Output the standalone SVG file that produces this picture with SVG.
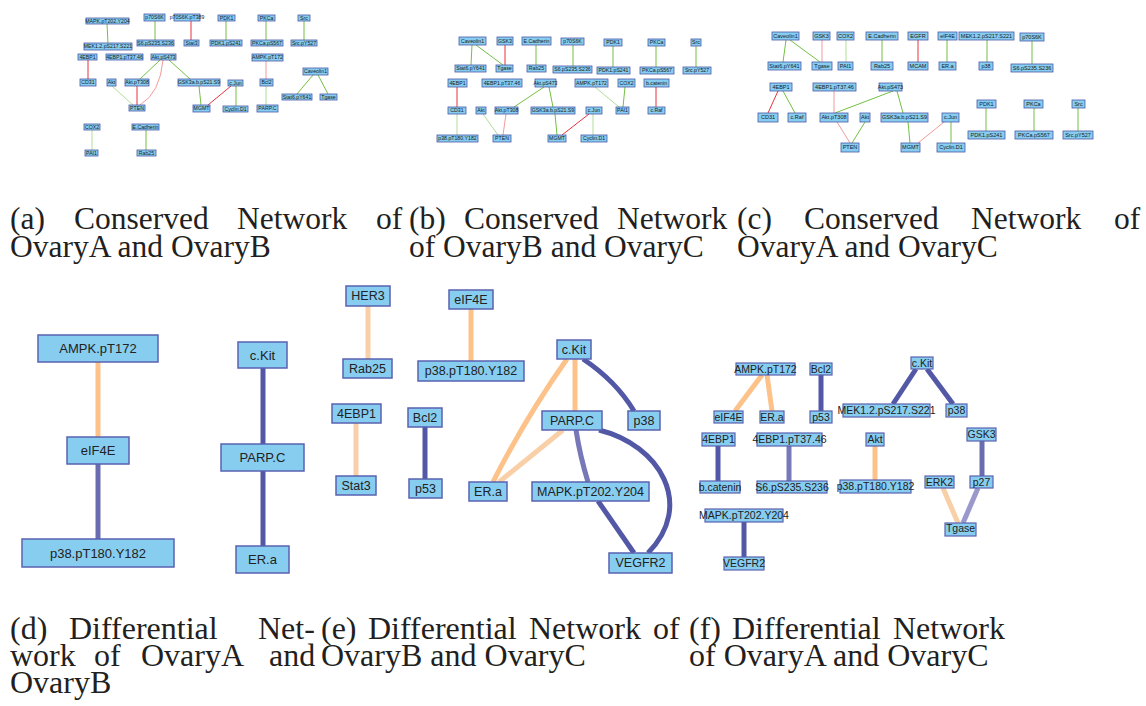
<svg xmlns="http://www.w3.org/2000/svg" width="1146" height="706" viewBox="0 0 1146 706">
<style>
  .bg { fill: #ffffff; }
  .s rect { fill: #87cdf0; stroke: #4c58a8; stroke-width: 0.8; }
  .s text { font-family: "Liberation Sans", Arial, sans-serif; font-size: 5.2px; fill: #1a1a1a; text-anchor: middle; }
  .c text { font-size: 5.5px; }
  .L rect { fill: #87cdf0; stroke: #5a62b0; stroke-width: 1.5; }
  .L text { font-family: "Liberation Sans", Arial, sans-serif; font-size: 12.5px; fill: #222222; text-anchor: middle; }
  .d text { font-size: 13px; }
  .M rect { fill: #87cdf0; stroke: #5a62b0; stroke-width: 1.2; }
  .M text { font-family: "Liberation Sans", Arial, sans-serif; font-size: 10.5px; fill: #222222; text-anchor: middle; }
  .e path, .e line { fill: none; }
  .g { stroke: #74c043; stroke-width: 1; }
  .lg { stroke: #b3dd98; stroke-width: 1; }
  .r { stroke: #e8353c; stroke-width: 1; }
  .lr { stroke: #f29b9b; stroke-width: 1; }
  .db { stroke: #5257a6; stroke-width: 5; }
  .mb { stroke: #6a6cb0; stroke-width: 5; }
  .pb { stroke: #7878b8; stroke-width: 5; }
  .vb { stroke: #9b98cc; stroke-width: 5; }
  .or { stroke: #fdc289; stroke-width: 5; }
  .pe { stroke: #f9cfa8; stroke-width: 5; }
  .cap { font-family: "Liberation Serif", "Times New Roman", serif; fill: #231f20; }
  .top { font-size: 31.5px; }
  .bot { font-size: 32px; }
</style>
<rect class="bg" x="0" y="0" width="1146" height="706"/>

<!-- edges of all six networks -->
<g id="connectors" class="e">
  <!-- (a) -->
  <line class="g" x1="107" y1="24" x2="108" y2="43"/>
  <line class="g" x1="155" y1="21" x2="155" y2="40"/>
  <line class="r" x1="191" y1="21" x2="191" y2="40"/>
  <line class="g" x1="226" y1="21" x2="226" y2="40"/>
  <line class="g" x1="266" y1="21" x2="266" y2="40"/>
  <line class="g" x1="304" y1="21" x2="304" y2="40"/>
  <line class="lr" x1="266" y1="61" x2="266" y2="79"/>
  <line class="lg" x1="266" y1="86" x2="266" y2="105"/>
  <line class="g" x1="313" y1="75" x2="297" y2="94"/>
  <line class="g" x1="318" y1="75" x2="328" y2="94"/>
  <line class="g" x1="236" y1="86" x2="236" y2="106"/>
  <line class="r" x1="231" y1="86" x2="208" y2="105"/>
  <line class="r" x1="88" y1="60" x2="88" y2="79"/>
  <line class="g" x1="160" y1="60" x2="140" y2="79"/>
  <line class="g" x1="169" y1="60" x2="190" y2="79"/>
  <path class="lr" d="M163 60 Q160 93 140 105"/>
  <line class="lg" x1="112" y1="86" x2="133" y2="105"/>
  <line class="r" x1="137" y1="86" x2="137" y2="105"/>
  <line class="g" x1="199" y1="86" x2="201" y2="105"/>
  <line class="lg" x1="92" y1="130" x2="92" y2="150"/>
  <line class="g" x1="146" y1="130" x2="146" y2="150"/>
  <!-- (b) -->
  <line class="g" x1="472" y1="45" x2="471" y2="65"/>
  <line class="g" x1="476" y1="45" x2="503" y2="65"/>
  <line class="r" x1="505" y1="45" x2="505" y2="65"/>
  <line class="g" x1="536" y1="45" x2="536" y2="65"/>
  <line class="g" x1="573" y1="45" x2="573" y2="66"/>
  <line class="g" x1="613" y1="46" x2="613" y2="67"/>
  <line class="g" x1="656" y1="46" x2="656" y2="67"/>
  <line class="g" x1="696" y1="46" x2="696" y2="67"/>
  <line class="lg" x1="595" y1="87" x2="619" y2="107"/>
  <line class="g" x1="625" y1="87" x2="623" y2="107"/>
  <line class="r" x1="656" y1="87" x2="656" y2="107"/>
  <line class="lg" x1="593" y1="114" x2="593" y2="135"/>
  <line class="r" x1="589" y1="114" x2="562" y2="135"/>
  <line class="r" x1="457" y1="87" x2="457" y2="107"/>
  <line class="lg" x1="457" y1="114" x2="457" y2="135"/>
  <line class="g" x1="544" y1="87" x2="514" y2="107"/>
  <line class="g" x1="549" y1="87" x2="553" y2="107"/>
  <line class="g" x1="555" y1="114" x2="557" y2="135"/>
  <line class="lg" x1="483" y1="114" x2="498" y2="135"/>
  <line class="lr" x1="506" y1="114" x2="503" y2="135"/>
  <!-- (c) -->
  <line class="g" x1="786" y1="40" x2="783" y2="62"/>
  <line class="g" x1="790" y1="40" x2="820" y2="62"/>
  <line class="lr" x1="822" y1="40" x2="822" y2="62"/>
  <line class="lg" x1="846" y1="40" x2="846" y2="62"/>
  <line class="g" x1="882" y1="40" x2="882" y2="62"/>
  <line class="r" x1="918" y1="40" x2="918" y2="62"/>
  <line class="g" x1="947" y1="40" x2="947" y2="62"/>
  <line class="g" x1="987" y1="40" x2="987" y2="62"/>
  <line class="g" x1="1032" y1="41" x2="1032" y2="64"/>
  <line class="r" x1="778" y1="91" x2="768" y2="113"/>
  <line class="g" x1="783" y1="91" x2="795" y2="113"/>
  <line class="lr" x1="834" y1="91" x2="834" y2="113"/>
  <line class="g" x1="893" y1="91" x2="835" y2="113"/>
  <line class="g" x1="897" y1="91" x2="903" y2="113"/>
  <line class="g" x1="908" y1="122" x2="910" y2="143"/>
  <line class="lr" x1="837" y1="122" x2="850" y2="143"/>
  <line class="g" x1="865" y1="122" x2="852" y2="143"/>
  <line class="lr" x1="944" y1="122" x2="918" y2="143"/>
  <line class="g" x1="951" y1="122" x2="951" y2="143"/>
  <line class="g" x1="986" y1="108" x2="986" y2="131"/>
  <line class="g" x1="1034" y1="108" x2="1034" y2="131"/>
  <line class="g" x1="1078" y1="108" x2="1078" y2="131"/>
  <!-- (d) -->
  <line class="or" x1="98" y1="362" x2="98" y2="437"/>
  <line class="mb" x1="98" y1="464" x2="98" y2="539"/>
  <line class="db" x1="263" y1="368" x2="263" y2="444"/>
  <line class="db" x1="263" y1="471" x2="263" y2="546"/>
  <!-- (e) -->
  <line class="pe" x1="368" y1="306" x2="368" y2="359"/>
  <line class="or" x1="471" y1="309" x2="471" y2="361"/>
  <line class="pe" x1="356" y1="423" x2="356" y2="476"/>
  <line class="db" x1="425" y1="427" x2="425" y2="479"/>
  <path class="or" d="M567 359 Q526 417 493 482"/>
  <line class="or" x1="575" y1="359" x2="575" y2="411"/>
  <path class="db" d="M583 359 Q616 381 634 411"/>
  <line class="pe" x1="563" y1="430" x2="499" y2="482"/>
  <path class="pb" d="M576 430 Q580 456 588 482"/>
  <path class="db" d="M599 430 C660 445 695 505 648 553"/>
  <line class="db" x1="598" y1="501" x2="634" y2="553"/>
  <!-- (f) -->
  <line class="or" x1="762" y1="375" x2="735" y2="411"/>
  <line class="or" x1="767" y1="375" x2="772" y2="411"/>
  <line class="db" x1="821" y1="375" x2="821" y2="411"/>
  <line class="db" x1="718" y1="446" x2="718" y2="481"/>
  <line class="pb" x1="789" y1="446" x2="789" y2="481"/>
  <line class="or" x1="875" y1="446" x2="875" y2="480"/>
  <line class="db" x1="744" y1="522" x2="744" y2="557"/>
  <line class="db" x1="916" y1="369" x2="893" y2="404"/>
  <line class="db" x1="927" y1="369" x2="953" y2="404"/>
  <line class="mb" x1="982" y1="441" x2="982" y2="476"/>
  <line class="pe" x1="943" y1="488" x2="958" y2="523"/>
  <line class="vb" x1="978" y1="488" x2="963" y2="523"/>
</g>

<!-- (a) conserved network, OvaryA / OvaryB -->
<g id="net-a" class="s">
  <g id="a-MAPK"><rect x="86" y="18" width="43" height="6"/><text x="107.5" y="22.9">MAPK.pT202.Y204</text></g>
  <g id="a-MEK"><rect x="84" y="43" width="48" height="7"/><text x="108" y="48.4">MEK1.2.pS217.S221</text></g>
  <g id="a-p70S6K"><rect x="144" y="14" width="21" height="7"/><text x="154.5" y="19.4">p70S6K</text></g>
  <g id="a-S6"><rect x="137" y="40" width="37" height="6"/><text x="155.5" y="44.9">S6.pS235.S236</text></g>
  <g id="a-p70S6K-pT389"><rect x="174" y="14" width="26" height="7"/><text x="187" y="19.4">p70S6K.pT389</text></g>
  <g id="a-Stat3"><rect x="184" y="40" width="15" height="6"/><text x="191.5" y="44.9">Stat3</text></g>
  <g id="a-PDK1"><rect x="218" y="15" width="17" height="6"/><text x="226.5" y="19.9">PDK1</text></g>
  <g id="a-PDK1-pS241"><rect x="210" y="40" width="32" height="6"/><text x="226" y="44.9">PDK1.pS241</text></g>
  <g id="a-PKCa"><rect x="258" y="15" width="17" height="6"/><text x="266.5" y="19.9">PKCa</text></g>
  <g id="a-PKCa-pS567"><rect x="251" y="40" width="32" height="6"/><text x="267" y="44.9">PKCa.pS567</text></g>
  <g id="a-Src"><rect x="298" y="15" width="12" height="6"/><text x="304" y="19.9">Src</text></g>
  <g id="a-Src-pY527"><rect x="291" y="40" width="26" height="6"/><text x="304" y="44.9">Src.pY527</text></g>
  <g id="a-AMPK"><rect x="252" y="54" width="31" height="7"/><text x="267.5" y="59.4">AMPK.pT172</text></g>
  <g id="a-Bcl2"><rect x="260" y="79" width="13" height="7"/><text x="266.5" y="84.4">Bcl2</text></g>
  <g id="a-PARP"><rect x="257" y="105" width="21" height="7"/><text x="267.5" y="110.4">PARP.C</text></g>
  <g id="a-Caveolin1"><rect x="303" y="68" width="25" height="7"/><text x="315.5" y="73.4">Caveolin1</text></g>
  <g id="a-Stat6"><rect x="282" y="94" width="30" height="6"/><text x="297" y="98.9">Stat6.pY641</text></g>
  <g id="a-Tgase"><rect x="320" y="94" width="17" height="6"/><text x="328.5" y="98.9">Tgase</text></g>
  <g id="a-cJun"><rect x="228" y="80" width="15" height="6"/><text x="235.5" y="84.9">c.Jun</text></g>
  <g id="a-CyclinD1"><rect x="223" y="106" width="25" height="6"/><text x="235.5" y="110.9">Cyclin.D1</text></g>
  <g id="a-4EBP1"><rect x="78" y="54" width="19" height="6"/><text x="87.5" y="58.9">4EBP1</text></g>
  <g id="a-4EBP1-pT37"><rect x="106" y="54" width="37" height="6"/><text x="124.5" y="58.9">4EBP1.pT37.46</text></g>
  <g id="a-Akt-pS473"><rect x="151" y="54" width="25" height="6"/><text x="163.5" y="58.9">Akt.pS473</text></g>
  <g id="a-CD31"><rect x="80" y="79" width="16" height="7"/><text x="88" y="84.4">CD31</text></g>
  <g id="a-Akt"><rect x="107" y="79" width="9" height="7"/><text x="111.5" y="84.4">Akt</text></g>
  <g id="a-Akt-pT308"><rect x="125" y="79" width="24" height="7"/><text x="137" y="84.4">Akt.pT308</text></g>
  <g id="a-GSK3ab"><rect x="178" y="79" width="42" height="7"/><text x="199" y="84.4">GSK3a.b.pS21.S9</text></g>
  <g id="a-PTEN"><rect x="129" y="105" width="16" height="6"/><text x="137" y="109.9">PTEN</text></g>
  <g id="a-MGMT"><rect x="193" y="105" width="17" height="7"/><text x="201.5" y="110.4">MGMT</text></g>
  <g id="a-COX2"><rect x="84" y="124" width="16" height="6"/><text x="92" y="128.9">COX2</text></g>
  <g id="a-PAI1"><rect x="85" y="150" width="13" height="6"/><text x="91.5" y="154.9">PAI1</text></g>
  <g id="a-ECadherin"><rect x="132" y="124" width="27" height="6"/><text x="145.5" y="128.9">E.Cadherin</text></g>
  <g id="a-Rab25"><rect x="137" y="150" width="19" height="6"/><text x="146.5" y="154.9">Rab25</text></g>
</g>

<!-- (b) conserved network, OvaryB / OvaryC -->
<g id="net-b" class="s">
  <g id="b-Caveolin1"><rect x="459" y="37" width="27" height="8"/><text x="472.5" y="42.9">Caveolin1</text></g>
  <g id="b-GSK3"><rect x="497" y="37" width="16" height="8"/><text x="505" y="42.9">GSK3</text></g>
  <g id="b-ECadherin"><rect x="522" y="37" width="29" height="8"/><text x="536.5" y="42.9">E.Cadherin</text></g>
  <g id="b-p70S6K"><rect x="561" y="38" width="23" height="7"/><text x="572.5" y="43.4">p70S6K</text></g>
  <g id="b-Stat6"><rect x="455" y="65" width="31" height="7"/><text x="470.5" y="70.4">Stat6.pY641</text></g>
  <g id="b-Tgase"><rect x="496" y="65" width="17" height="7"/><text x="504.5" y="70.4">Tgase</text></g>
  <g id="b-Rab25"><rect x="527" y="65" width="19" height="7"/><text x="536.5" y="70.4">Rab25</text></g>
  <g id="b-S6"><rect x="553" y="66" width="39" height="7"/><text x="572.5" y="71.4">S6.pS235.S236</text></g>
  <g id="b-PDK1"><rect x="604" y="39" width="18" height="7"/><text x="613" y="44.4">PDK1</text></g>
  <g id="b-PDK1-pS241"><rect x="597" y="67" width="33" height="7"/><text x="613.5" y="72.4">PDK1.pS241</text></g>
  <g id="b-PKCa"><rect x="648" y="39" width="17" height="7"/><text x="656.5" y="44.4">PKCa</text></g>
  <g id="b-PKCa-pS567"><rect x="640" y="67" width="34" height="7"/><text x="657" y="72.4">PKCa.pS567</text></g>
  <g id="b-Src"><rect x="691" y="39" width="10" height="7"/><text x="696" y="44.4">Src</text></g>
  <g id="b-Src-pY527"><rect x="683" y="67" width="28" height="7"/><text x="697" y="72.4">Src.pY527</text></g>
  <g id="b-AMPK"><rect x="575" y="79" width="33" height="8"/><text x="591.5" y="84.9">AMPK.pT172</text></g>
  <g id="b-COX2"><rect x="618" y="79" width="17" height="8"/><text x="626.5" y="84.9">COX2</text></g>
  <g id="b-bcatenin"><rect x="644" y="79" width="25" height="8"/><text x="656.5" y="84.9">b.catenin</text></g>
  <g id="b-cJun"><rect x="586" y="107" width="16" height="7"/><text x="594" y="112.4">c.Jun</text></g>
  <g id="b-PAI1"><rect x="616" y="107" width="13" height="7"/><text x="622.5" y="112.4">PAI1</text></g>
  <g id="b-cRaf"><rect x="648" y="107" width="17" height="7"/><text x="656.5" y="112.4">c.Raf</text></g>
  <g id="b-CyclinD1"><rect x="581" y="135" width="26" height="7"/><text x="594" y="140.4">Cyclin.D1</text></g>
  <g id="b-4EBP1"><rect x="448" y="79" width="19" height="8"/><text x="457.5" y="84.9">4EBP1</text></g>
  <g id="b-4EBP1-pT37"><rect x="482" y="79" width="40" height="8"/><text x="502" y="84.9">4EBP1.pT37.46</text></g>
  <g id="b-Akt-pS473"><rect x="535" y="79" width="21" height="8"/><text x="545.5" y="84.9">Akt.pS473</text></g>
  <g id="b-CD31"><rect x="448" y="107" width="18" height="7"/><text x="457" y="112.4">CD31</text></g>
  <g id="b-Akt"><rect x="476" y="107" width="10" height="7"/><text x="481" y="112.4">Akt</text></g>
  <g id="b-Akt-pT308"><rect x="495" y="107" width="23" height="7"/><text x="506.5" y="112.4">Akt.pT308</text></g>
  <g id="b-GSK3ab"><rect x="531" y="107" width="44" height="7"/><text x="553" y="112.4">GSK3a.b.pS21.S9</text></g>
  <g id="b-p38-pT180"><rect x="437" y="135" width="41" height="7"/><text x="457.5" y="140.4">p38.pT180.Y182</text></g>
  <g id="b-PTEN"><rect x="493" y="135" width="18" height="7"/><text x="502" y="140.4">PTEN</text></g>
  <g id="b-MGMT"><rect x="548" y="135" width="18" height="7"/><text x="557" y="140.4">MGMT</text></g>
</g>

<!-- (c) conserved network, OvaryA / OvaryC -->
<g id="net-c" class="s c">
  <g id="c-Caveolin1"><rect x="772" y="32" width="27" height="8"/><text x="785.5" y="37.9">Caveolin1</text></g>
  <g id="c-GSK3"><rect x="813" y="32" width="17" height="8"/><text x="821.5" y="37.9">GSK3</text></g>
  <g id="c-COX2"><rect x="837" y="32" width="17" height="8"/><text x="845.5" y="37.9">COX2</text></g>
  <g id="c-ECadherin"><rect x="866" y="32" width="32" height="8"/><text x="882" y="37.9">E.Cadherin</text></g>
  <g id="c-EGFR"><rect x="908" y="32" width="20" height="8"/><text x="918" y="37.9">EGFR</text></g>
  <g id="c-eIF4E"><rect x="938" y="32" width="19" height="8"/><text x="947.5" y="37.9">eIF4E</text></g>
  <g id="c-MEK"><rect x="959" y="32" width="55" height="8"/><text x="986.5" y="37.9">MEK1.2.pS217.S221</text></g>
  <g id="c-p70S6K"><rect x="1020" y="33" width="24" height="8"/><text x="1032" y="38.9">p70S6K</text></g>
  <g id="c-Stat6"><rect x="768" y="62" width="33" height="8"/><text x="784.5" y="67.9">Stat6.pY641</text></g>
  <g id="c-Tgase"><rect x="812" y="62" width="20" height="8"/><text x="822" y="67.9">Tgase</text></g>
  <g id="c-PAI1"><rect x="838" y="62" width="15" height="8"/><text x="845.5" y="67.9">PAI1</text></g>
  <g id="c-Rab25"><rect x="871" y="62" width="22" height="8"/><text x="882" y="67.9">Rab25</text></g>
  <g id="c-MCAM"><rect x="908" y="62" width="20" height="8"/><text x="918" y="67.9">MCAM</text></g>
  <g id="c-ERa"><rect x="939" y="62" width="17" height="8"/><text x="947.5" y="67.9">ER.a</text></g>
  <g id="c-p38"><rect x="979" y="62" width="14" height="8"/><text x="986" y="67.9">p38</text></g>
  <g id="c-S6"><rect x="1011" y="64" width="42" height="8"/><text x="1032" y="69.9">S6.pS235.S236</text></g>
  <g id="c-4EBP1"><rect x="770" y="83" width="22" height="8"/><text x="781" y="88.9">4EBP1</text></g>
  <g id="c-4EBP1-pT37"><rect x="813" y="83" width="43" height="8"/><text x="834.5" y="88.9">4EBP1.pT37.46</text></g>
  <g id="c-Akt-pS473"><rect x="879" y="83" width="23" height="8"/><text x="890.5" y="88.9">Akt.pS473</text></g>
  <g id="c-CD31"><rect x="758" y="113" width="20" height="9"/><text x="768" y="119.4">CD31</text></g>
  <g id="c-cRaf"><rect x="788" y="113" width="18" height="9"/><text x="797" y="119.4">c.Raf</text></g>
  <g id="c-Akt-pT308"><rect x="820" y="113" width="28" height="9"/><text x="834" y="119.4">Akt.pT308</text></g>
  <g id="c-Akt"><rect x="860" y="113" width="10" height="9"/><text x="865" y="119.4">Akt</text></g>
  <g id="c-GSK3ab"><rect x="881" y="113" width="47" height="9"/><text x="904.5" y="119.4">GSK3a.b.pS21.S9</text></g>
  <g id="c-PTEN"><rect x="841" y="143" width="18" height="9"/><text x="850" y="149.4">PTEN</text></g>
  <g id="c-MGMT"><rect x="901" y="143" width="19" height="9"/><text x="910.5" y="149.4">MGMT</text></g>
  <g id="c-cJun"><rect x="942" y="113" width="17" height="9"/><text x="950.5" y="119.4">c.Jun</text></g>
  <g id="c-CyclinD1"><rect x="937" y="143" width="28" height="9"/><text x="951" y="149.4">Cyclin.D1</text></g>
  <g id="c-PDK1"><rect x="977" y="100" width="19" height="8"/><text x="986.5" y="105.9">PDK1</text></g>
  <g id="c-PDK1-pS241"><rect x="968" y="131" width="37" height="8"/><text x="986.5" y="136.9">PDK1.pS241</text></g>
  <g id="c-PKCa"><rect x="1024" y="100" width="19" height="8"/><text x="1033.5" y="105.9">PKCa</text></g>
  <g id="c-PKCa-pS567"><rect x="1015" y="131" width="38" height="8"/><text x="1034" y="136.9">PKCa.pS567</text></g>
  <g id="c-Src"><rect x="1072" y="100" width="13" height="8"/><text x="1078.5" y="105.9">Src</text></g>
  <g id="c-Src-pY527"><rect x="1063" y="131" width="30" height="8"/><text x="1078" y="136.9">Src.pY527</text></g>
</g>

<!-- (d) differential network, OvaryA / OvaryB -->
<g id="net-d" class="L d">
  <g id="d-AMPK"><rect x="38" y="335" width="120" height="27"/><text x="98" y="353.1">AMPK.pT172</text></g>
  <g id="d-eIF4E"><rect x="67" y="437" width="62" height="27"/><text x="98" y="455.1">eIF4E</text></g>
  <g id="d-p38-pT180"><rect x="22" y="539" width="152" height="28"/><text x="98" y="557.6">p38.pT180.Y182</text></g>
  <g id="d-cKit"><rect x="238" y="342" width="49" height="26"/><text x="262.5" y="359.6">c.Kit</text></g>
  <g id="d-PARP"><rect x="221" y="444" width="83" height="27"/><text x="262.5" y="462.1">PARP.C</text></g>
  <g id="d-ERa"><rect x="236" y="546" width="53" height="27"/><text x="262.5" y="564.1">ER.a</text></g>
</g>

<!-- (e) differential network, OvaryB / OvaryC -->
<g id="net-e" class="L">
  <g id="e-HER3"><rect x="346" y="286" width="44" height="20"/><text x="368" y="300.4">HER3</text></g>
  <g id="e-Rab25"><rect x="343" y="359" width="49" height="19"/><text x="367.5" y="372.9">Rab25</text></g>
  <g id="e-eIF4E"><rect x="449" y="290" width="44" height="19"/><text x="471" y="303.9">eIF4E</text></g>
  <g id="e-p38-pT180"><rect x="418" y="361" width="106" height="20"/><text x="471" y="375.4">p38.pT180.Y182</text></g>
  <g id="e-4EBP1"><rect x="332" y="404" width="49" height="19"/><text x="356.5" y="417.9">4EBP1</text></g>
  <g id="e-Stat3"><rect x="336" y="476" width="40" height="19"/><text x="356" y="489.9">Stat3</text></g>
  <g id="e-Bcl2"><rect x="408" y="408" width="34" height="19"/><text x="425" y="421.9">Bcl2</text></g>
  <g id="e-p53"><rect x="409" y="479" width="33" height="19"/><text x="425.5" y="492.9">p53</text></g>
  <g id="e-cKit"><rect x="557" y="340" width="34" height="19"/><text x="574" y="353.9">c.Kit</text></g>
  <g id="e-PARP"><rect x="542" y="411" width="60" height="19"/><text x="572" y="424.9">PARP.C</text></g>
  <g id="e-p38"><rect x="628" y="411" width="32" height="19"/><text x="644" y="424.9">p38</text></g>
  <g id="e-ERa"><rect x="469" y="482" width="38" height="19"/><text x="488" y="495.9">ER.a</text></g>
  <g id="e-MAPK"><rect x="532" y="482" width="117" height="19"/><text x="590.5" y="495.9">MAPK.pT202.Y204</text></g>
  <g id="e-VEGFR2"><rect x="609" y="553" width="63" height="20"/><text x="640.5" y="567.4">VEGFR2</text></g>
</g>

<!-- (f) differential network, OvaryA / OvaryC -->
<g id="net-f" class="M">
  <g id="f-AMPK"><rect x="736" y="363" width="59" height="12"/><text x="765.5" y="372.7">AMPK.pT172</text></g>
  <g id="f-Bcl2"><rect x="810" y="363" width="22" height="12"/><text x="821" y="372.7">Bcl2</text></g>
  <g id="f-eIF4E"><rect x="714" y="411" width="29" height="12"/><text x="728.5" y="420.7">eIF4E</text></g>
  <g id="f-ERa"><rect x="760" y="411" width="24" height="12"/><text x="772" y="420.7">ER.a</text></g>
  <g id="f-p53"><rect x="810" y="411" width="22" height="12"/><text x="821" y="420.7">p53</text></g>
  <g id="f-4EBP1"><rect x="702" y="433" width="33" height="13"/><text x="718.5" y="443.2">4EBP1</text></g>
  <g id="f-4EBP1-pT37"><rect x="757" y="433" width="65" height="13"/><text x="789.5" y="443.2">4EBP1.pT37.46</text></g>
  <g id="f-Akt"><rect x="866" y="433" width="18" height="13"/><text x="875" y="443.2">Akt</text></g>
  <g id="f-bcatenin"><rect x="700" y="481" width="40" height="12"/><text x="720" y="490.7">b.catenin</text></g>
  <g id="f-S6"><rect x="757" y="481" width="70" height="12"/><text x="792" y="490.7">S6.pS235.S236</text></g>
  <g id="f-p38-pT180"><rect x="840" y="480" width="71" height="13"/><text x="875.5" y="490.2">p38.pT180.Y182</text></g>
  <g id="f-MAPK"><rect x="705" y="509" width="78" height="13"/><text x="744" y="519.2">MAPK.pT202.Y204</text></g>
  <g id="f-VEGFR2"><rect x="724" y="557" width="40" height="13"/><text x="744" y="567.2">VEGFR2</text></g>
  <g id="f-cKit"><rect x="911" y="357" width="22" height="12"/><text x="922" y="366.7">c.Kit</text></g>
  <g id="f-MEK"><rect x="843" y="404" width="87" height="13"/><text x="886.5" y="414.2">MEK1.2.pS217.S221</text></g>
  <g id="f-p38"><rect x="946" y="404" width="21" height="13"/><text x="956.5" y="414.2">p38</text></g>
  <g id="f-GSK3"><rect x="967" y="428" width="29" height="13"/><text x="981.5" y="438.2">GSK3</text></g>
  <g id="f-ERK2"><rect x="925" y="476" width="29" height="12"/><text x="939.5" y="485.7">ERK2</text></g>
  <g id="f-p27"><rect x="970" y="476" width="23" height="12"/><text x="981.5" y="485.7">p27</text></g>
  <g id="f-Tgase"><rect x="945" y="523" width="31" height="13"/><text x="960.5" y="532.2">Tgase</text></g>
</g>

<!-- sub-figure captions (justified lines are set word by word) -->
<g id="captions" class="cap">
  <g class="top">
    <text x="10" y="229">(a)</text>
    <text x="74" y="229">Conserved</text>
    <text x="237" y="229">Network</text>
    <text x="376" y="229">of</text>
    <text x="10" y="257">OvaryA and OvaryB</text>

    <text x="409" y="229">(b)</text>
    <text x="464" y="229">Conserved</text>
    <text x="617" y="229">Network</text>
    <text x="409" y="257">of OvaryB and OvaryC</text>

    <text x="737" y="229">(c)</text>
    <text x="804" y="229">Conserved</text>
    <text x="971" y="229">Network</text>
    <text x="1114" y="229">of</text>
    <text x="737" y="257">OvaryA and OvaryC</text>
  </g>
  <g class="bot">
    <text x="10" y="639">(d)</text>
    <text x="69" y="639">Differential</text>
    <text x="258" y="639">Net-</text>
    <text x="10" y="666">work</text>
    <text x="94" y="666">of</text>
    <text x="141" y="666">OvaryA</text>
    <text x="269" y="666">and</text>
    <text x="10" y="693">OvaryB</text>

    <text x="321" y="639">(e)</text>
    <text x="368" y="639">Differential</text>
    <text x="529" y="639">Network</text>
    <text x="653" y="639">of</text>
    <text x="321" y="666">OvaryB and OvaryC</text>

    <text x="689" y="639">(f)</text>
    <text x="732" y="639">Differential</text>
    <text x="893" y="639">Network</text>
    <text x="689" y="666">of OvaryA and OvaryC</text>
  </g>
</g>
</svg>
